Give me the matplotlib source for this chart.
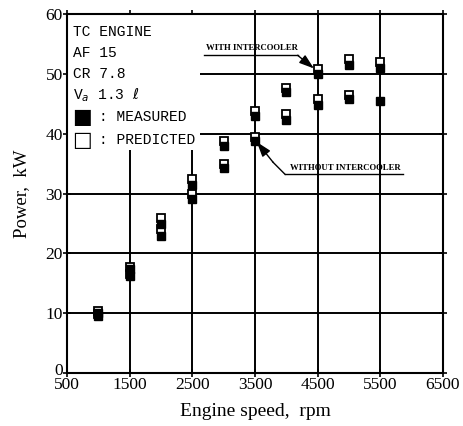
import matplotlib
matplotlib.use("Agg")
import matplotlib.pyplot as plt
from matplotlib.patches import Rectangle
import matplotlib.transforms as mtransforms

# ---- data ----
rpm_with = [1000, 1500, 2000, 2500, 3000, 3500, 4000, 4500, 5000, 5500]
meas_with = [10.0, 17.4, 24.9, 31.5, 38.0, 43.0, 47.0, 49.9, 51.5, 51.0]
pred_with = [10.3, 17.7, 25.9, 32.5, 38.7, 43.8, 47.6, 50.8, 52.4, 52.0]
rpm_without = [1000, 1500, 2000, 2500, 3000, 3500, 4000, 4500, 5000, 5500]
meas_without = [9.5, 16.2, 22.9, 29.0, 34.3, 38.7, 42.3, 44.8, 45.8, 45.4]
pred_without_rpm = [1000, 1500, 2000, 2500, 3000, 3500, 4000, 4500, 5000]
pred_without = [9.8, 16.5, 24.0, 30.0, 35.0, 39.5, 43.3, 45.8, 46.5]

xticks = [500, 1500, 2500, 3500, 4500, 5500, 6500]
yticks = [0, 10, 20, 30, 40, 50, 60]
info_lines = ["TC ENGINE", "AF 15", "CR 7.8", r"V$_a$ 1.3 $\ell$"]
legend_syms = ["\u25a0", "\u25a1"]
legend_labels = [": MEASURED", ": PREDICTED"]

fig = plt.figure(figsize=(4.64, 4.26), dpi=100)
ax = fig.add_axes([67/464, 1-373/426, 376/464, 359/426])
serif = "Liberation Serif"
mono = ["Liberation Mono", "DejaVu Sans Mono"]

ax.set_xlim(500, 6500)
ax.set_ylim(0, 60)
ax.set_xticks(xticks)
ax.set_yticks(yticks)
ax.grid(True, color="black", linewidth=1.4, zorder=1)
for s in ax.spines.values():
    s.set_linewidth(1.5)
ax.tick_params(direction="inout", length=6, width=1.2, top=True, right=True,
               labelsize=12.5, pad=0)
for lab in ax.get_xticklabels() + ax.get_yticklabels():
    lab.set_fontfamily(serif)
# nudge the "0" label up a little, as in the reference
ylabs = ax.get_yticklabels()
ylabs[0].set_transform(ylabs[0].get_transform() +
                       mtransforms.ScaledTranslation(0, 3/72, fig.dpi_scale_trans))
ax.set_xlabel("Engine speed,  rpm", fontfamily=serif, fontsize=14, labelpad=7)
ax.set_ylabel("Power,  kW", fontfamily=serif, fontsize=13.5, labelpad=11)

# white area behind the info block
ax.add_patch(Rectangle((0, (373-150)/359), (200-67)/376, 1-(373-150)/359,
                       transform=ax.transAxes, facecolor="white",
                       edgecolor="none", zorder=2))

ms = 5.5
ax.plot(rpm_with, pred_with, "s", mfc="white", mec="black", mew=1.3, ms=ms, zorder=4, clip_on=False)
ax.plot(pred_without_rpm, pred_without, "s", mfc="white", mec="black", mew=1.3, ms=ms, zorder=4, clip_on=False)
ax.plot(rpm_with, meas_with, "s", mfc="black", mec="black", ms=ms, zorder=5)
ax.plot(rpm_without, meas_without, "s", mfc="black", mec="black", ms=ms, zorder=5)

def fx(px):
    return (px - 67) / 376

def fy(py):
    return (373 - py) / 359

# info text block
ys = [32, 53, 74, 95]
for t, yp in zip(info_lines, ys):
    ax.text(fx(73), fy(yp), t, transform=ax.transAxes,
            fontfamily=mono, fontsize=10.5, va="center", ha="left", zorder=6)
for sym, lab, yp in zip(legend_syms, legend_labels, [117, 140]):
    ax.text(fx(72), fy(yp), sym, transform=ax.transAxes,
            fontfamily=["DejaVu Sans"], fontsize=15, va="center", ha="left", zorder=6)
    ax.text(fx(99), fy(yp), lab, transform=ax.transAxes,
            fontfamily=mono, fontsize=10.5, va="center", ha="left", zorder=6)

# annotations
afs = 6.3
ax.text(2720, 53.6, "WITH INTERCOOLER", fontfamily=serif, fontweight="bold",
        fontsize=afs, va="bottom", ha="left", zorder=6)
ax.plot([2680, 4180], [53.1, 53.1], color="black", lw=1.0, zorder=6)
ax.annotate("", xy=(4440, 50.9), xytext=(4180, 53.1),
            arrowprops=dict(arrowstyle="-|>,head_length=0.9,head_width=0.3",
                            color="black", lw=1.0, shrinkA=0, shrinkB=0), zorder=6)

ax.text(4060, 33.6, "WITHOUT INTERCOOLER", fontfamily=serif, fontweight="bold",
        fontsize=afs, va="bottom", ha="left", zorder=6)
ax.plot([3980, 5860], [33.2, 33.2], color="black", lw=1.0, zorder=6)
ax.plot([3980, 3790], [33.2, 35.2], color="black", lw=1.0, zorder=6)
ax.annotate("", xy=(3530, 38.6), xytext=(3790, 35.2),
            arrowprops=dict(arrowstyle="-|>,head_length=0.9,head_width=0.3",
                            color="black", lw=1.0, shrinkA=0, shrinkB=0), zorder=6)

fig.savefig("out.png", dpi=100)
